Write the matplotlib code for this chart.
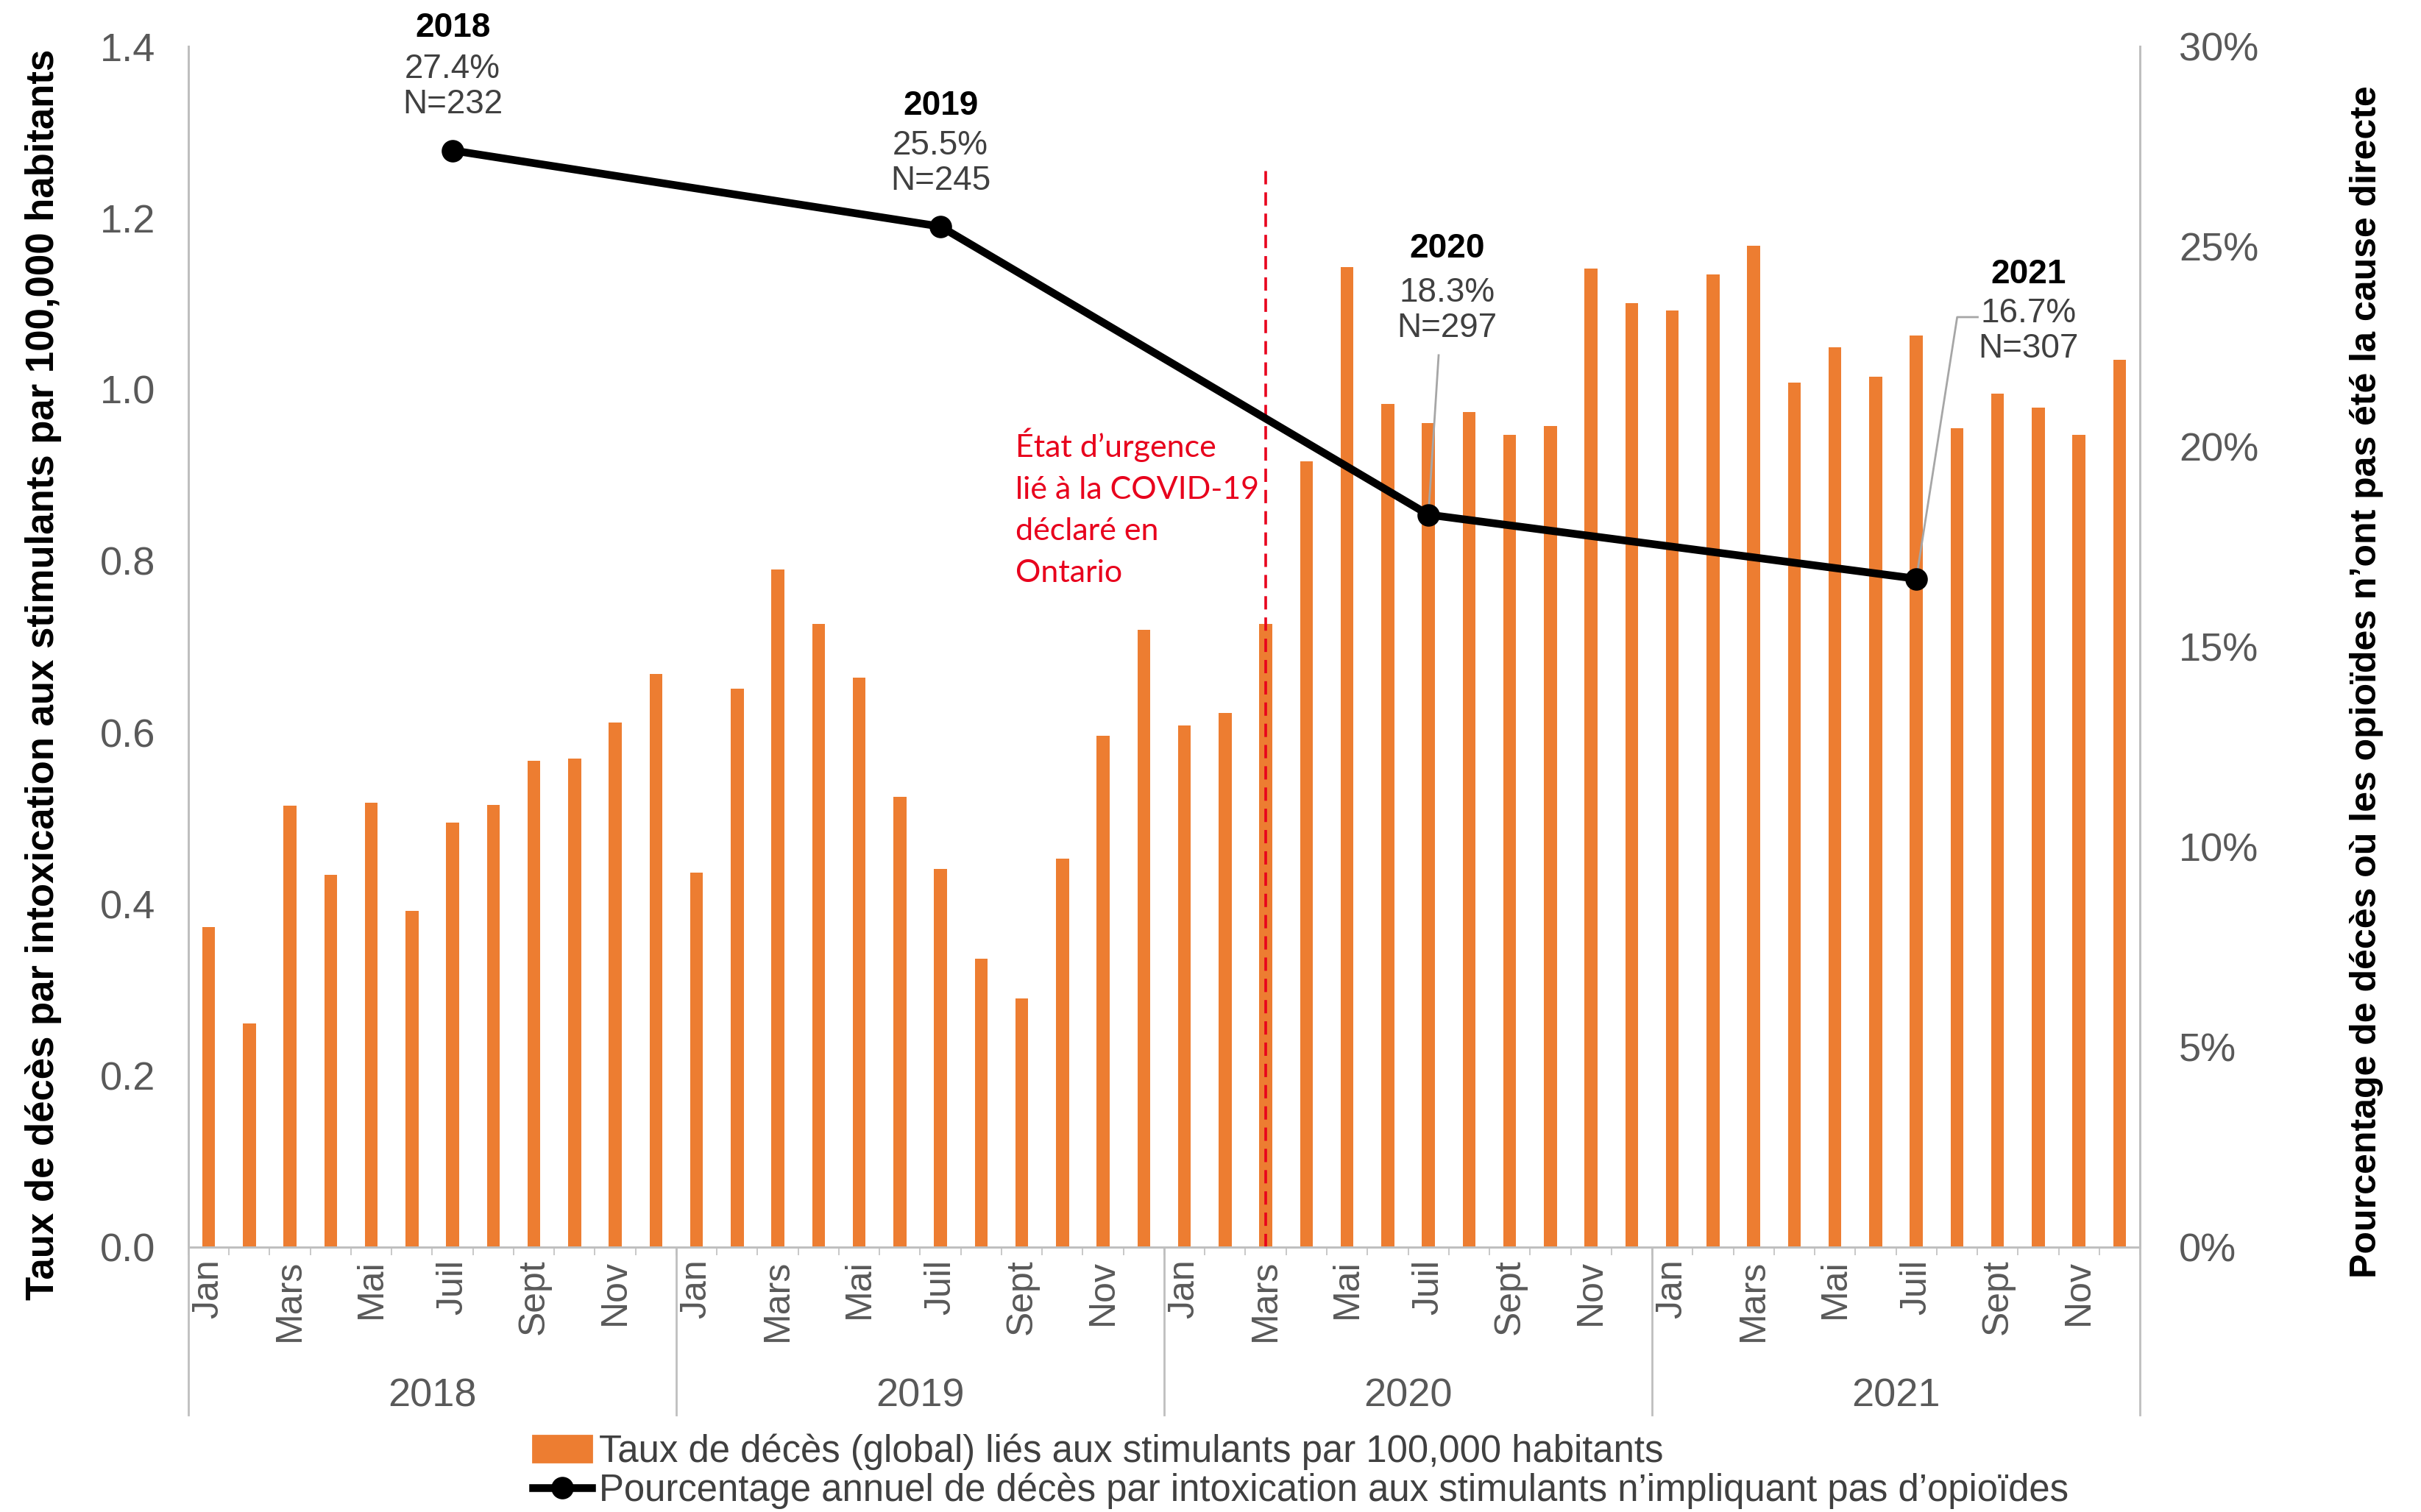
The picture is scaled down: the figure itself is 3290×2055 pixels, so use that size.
import numpy as np
import matplotlib.pyplot as plt
import matplotlib.transforms as mtransforms

plt.rcParams['font.family'] = ['Liberation Sans', 'DejaVu Sans']

years = ['2018', '2019', '2020', '2021']
months = ['Jan', 'Févr', 'Mars', 'Avr', 'Mai', 'Juin',
          'Juil', 'Août', 'Sept', 'Oct', 'Nov', 'Déc']

# monthly stimulant toxicity death rate per 100,000
rate_2018 = [0.373, 0.261, 0.515, 0.434, 0.518, 0.392, 0.495, 0.516, 0.567, 0.570, 0.612, 0.668]
rate_2019 = [0.437, 0.651, 0.790, 0.727, 0.664, 0.525, 0.441, 0.336, 0.290, 0.453, 0.596, 0.720]
rate_2020 = [0.608, 0.623, 0.727, 0.916, 1.143, 0.983, 0.961, 0.974, 0.947, 0.957, 1.141, 1.101]
rate_2021 = [1.092, 1.134, 1.168, 1.008, 1.049, 1.015, 1.063, 0.955, 0.995, 0.979, 0.947, 1.035]
rates = rate_2018 + rate_2019 + rate_2020 + rate_2021

# annual % of deaths without opioid involvement (plotted at July)
pct_values = [27.4, 25.5, 18.3, 16.7]
pct_n = [232, 245, 297, 307]
pct_month = 'Juil'

event_month = ('2020', 'Mars')
event_top = 1.26

orange = '#ED7D31'
grey_txt = '#595959'
grey_line = '#BFBFBF'

fig = plt.figure(figsize=(16.45, 10.275), dpi=200)
ax = fig.add_axes([0.0778, 0.1752, 0.8061, 0.7941])
ax2 = ax.twinx()

x = np.arange(len(rates))
ax.bar(x, rates, width=0.32, color=orange, zorder=2)
ax.set_xlim(-0.5, len(rates) - 0.5)
ax.set_ylim(0, 1.4)
ax.set_yticks(np.arange(0, 1.41, 0.2))
ax.set_yticklabels([f'{v:.1f}' for v in np.arange(0, 1.41, 0.2)])
ax2.set_ylim(0, 30)
ax2.set_yticks(range(0, 31, 5))
ax2.set_yticklabels([f'{v}%' for v in range(0, 31, 5)])

for a in (ax, ax2):
    a.spines['top'].set_visible(False)
    for s in ('left', 'right', 'bottom'):
        a.spines[s].set_color(grey_line)
        a.spines[s].set_linewidth(1.0)
ax.tick_params(axis='y', length=0, pad=16, labelsize=19.5, labelcolor=grey_txt)
ax2.tick_params(axis='y', length=0, pad=19, labelsize=19.5, labelcolor=grey_txt)

# month ticks (every other label), small ticks between categories
ax.set_xticks(x[::2])
ax.set_xticklabels([months[i % 12] for i in x[::2]], rotation=90, fontsize=18, color=grey_txt)
ax.tick_params(axis='x', which='major', length=0, pad=6)
ax.set_xticks(np.arange(-0.5, len(rates), 1), minor=True)
ax.tick_params(axis='x', which='minor', length=4, color=grey_line, direction='out')

# year group labels and separators
btrans = mtransforms.blended_transform_factory(ax.transData, ax.transAxes)
for i, yr in enumerate(years):
    ax.text(i * 12 + 5.5, -0.124, yr, transform=btrans, ha='center', va='center',
            fontsize=19.5, color=grey_txt)
for i in range(len(years) + 1):
    ax.plot([i * 12 - 0.5] * 2, [0, -0.14], transform=btrans, color=grey_line,
            lw=1.0, clip_on=False)

# COVID-19 emergency line
ex = years.index(event_month[0]) * 12 + months.index(event_month[1])
ax.plot([ex, ex], [0, event_top], color='#E8001C', lw=1.3, ls=(0, (5, 3)), zorder=3)
ax.text(ex - 6.15, 0.955, 'État d’urgence\nlié à la COVID-19\ndéclaré en\nOntario',
        ha='left', va='top', fontsize=15.5, color='#E8001C', family='Lato', linespacing=1.6)

# annual percentage line
px = [i * 12 + months.index(pct_month) for i in range(len(years))]
ax2.plot(px, pct_values, color='black', lw=3.8, marker='o', markersize=10, zorder=5)

# labels (offsets in points from each point)
year_off = [(0, 60), (0, 59), (9, 130), (55, 149)]
stat_off = [(0, 31), (0, 31), (9, 100), (55, 121)]
leaders = [None, None, [(5, 78), (0, 0)], [(30, 128), (20, 128), (0, 0)]]
for i in range(len(years)):
    ax2.annotate(years[i], (px[i], pct_values[i]), xytext=year_off[i],
                 textcoords='offset points', ha='center', va='center',
                 fontsize=16.5, fontweight='bold', color='black')
    ax2.annotate(f'{pct_values[i]}%\nN={pct_n[i]}', (px[i], pct_values[i]),
                 xytext=stat_off[i], textcoords='offset points', ha='center',
                 va='center', fontsize=16.5, color='#404040', linespacing=1.12)
    if leaders[i]:
        tr = (mtransforms.Affine2D().scale(1 / 72) + fig.dpi_scale_trans +
              mtransforms.ScaledTranslation(px[i], pct_values[i], ax2.transData))
        lx, ly = zip(*leaders[i])
        ax2.plot(lx, ly, transform=tr, color='#A6A6A6', lw=1.0, zorder=4, clip_on=False)

# axis titles
fig.text(0.0179, 0.554, 'Taux de décès par intoxication aux stimulants par 100,000 habitants',
         rotation=90, ha='center', va='center', fontsize=19, fontweight='bold')
fig.text(0.9776, 0.549, 'Pourcentage de décès où les opioïdes n’ont pas été la cause directe',
         rotation=90, ha='center', va='center', fontsize=18, fontweight='bold')

# legend
h1 = plt.Rectangle((0, 0), 1, 1, color=orange)
h2, = ax2.plot([], [], color='black', lw=3.8, marker='o', markersize=10)
fig.legend([h1, h2],
           ['Taux de décès (global) liés aux stimulants par 100,000 habitants',
            'Pourcentage annuel de décès par intoxication aux stimulants n’impliquant pas d’opioïdes'],
           loc='upper left', bbox_to_anchor=(0.22, 0.052), frameon=False, fontsize=18.3,
           labelcolor='#404040', handlelength=1.57, handletextpad=0.2, labelspacing=0.08,
           borderpad=0, borderaxespad=0)

fig.savefig('out.png', dpi=200)
